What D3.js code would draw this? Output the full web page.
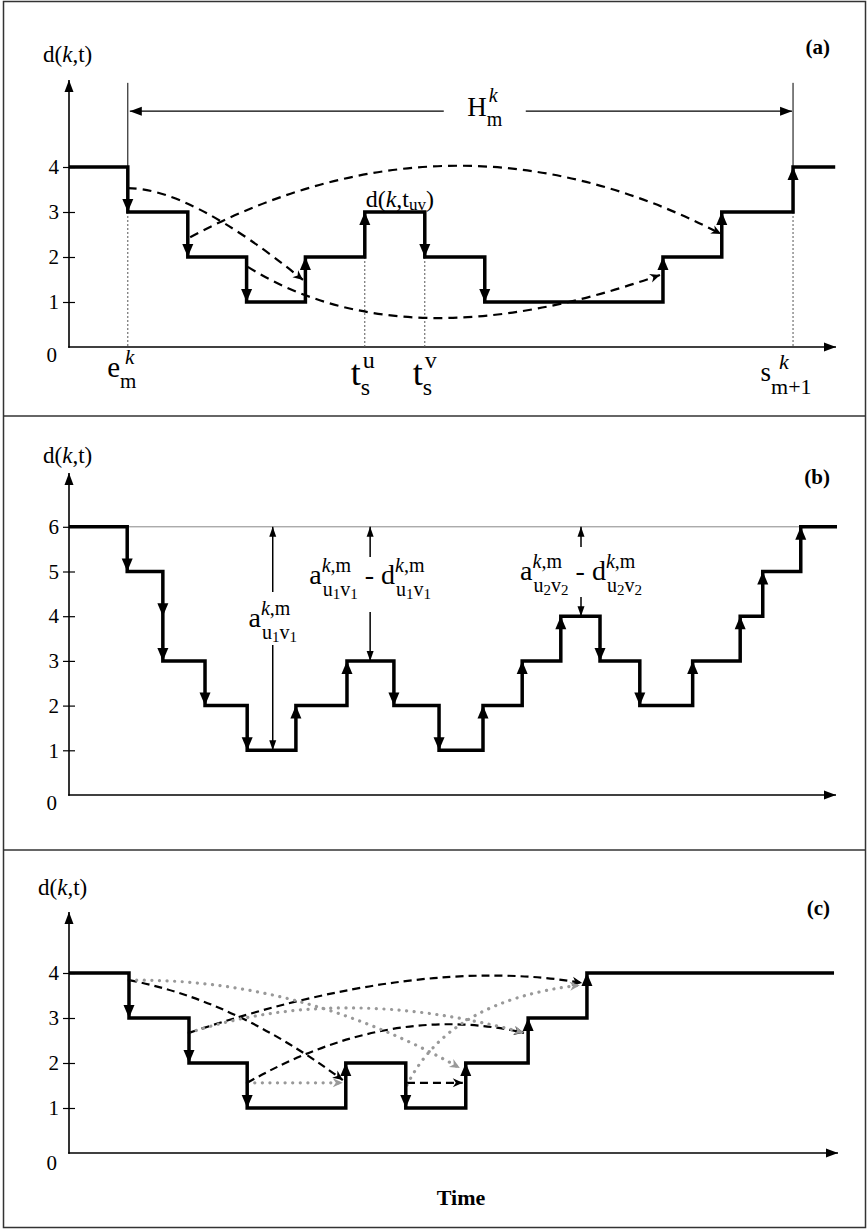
<!DOCTYPE html>
<html>
<head>
<meta charset="utf-8">
<script src="https://cdn.jsdelivr.net/npm/d3@7"></script>
<style>
body { margin: 0; background: #fff; }
svg text { font-family: "Liberation Serif", "Times New Roman", serif; fill: #000; white-space: pre; }
</style>
</head>
<body>
<script>
// ---------- data ----------
// step changes of d(k,t): [time, new level]
var aSteps = [[0, 4], [0.99, 3], [2.0, 2], [2.99, 1], [3.98, 2], [4.98, 3], [5.99, 2], [7.0, 1], [10.0, 2], [10.99, 3], [12.19, 4]];
var aEnd = 12.9;
var aTicks = [0, 1, 2, 3, 4];
// guide times: e_m^k, t_s^u, t_s^v, s_m+1^k
var aGuides = [0.99, 4.98, 5.99, 12.19];
// dashed arcs: [t0, d0, tControl, dControl, t1, d1]
var aArcs = [
    [0.99, 3.53, 2.04, 3.53, 3.94, 1.49],
    [2.04, 2.44, 6.5, 5.58, 10.98, 2.51],
    [3.01, 1.78, 5.67, -0.4, 9.95, 1.6]
];
var aHorizonLevel = 5.24;
var aGuideTop = 5.87;

var bSteps = [[0, 6], [0.98, 5], [1.58, 4], [1.58, 3], [2.29, 2], [3.0, 1], [3.82, 2], [4.68, 3], [5.47, 2], [6.23, 1],
              [6.97, 2], [7.63, 3], [8.28, 4], [8.94, 3], [9.61, 2], [10.5, 3], [11.3, 4], [11.68, 5], [12.32, 6]];
var bEnd = 12.93;
var bTicks = [0, 1, 2, 3, 4, 5, 6];
var bCap = 6;
// distance arrows: [time, from level, to level]
var bGaps = [[3.43, 6, 1], [5.07, 6, 3], [8.62, 6, 4]];

var cSteps = [[0, 4], [1.01, 3], [2.02, 2], [3.0, 1], [4.66, 2], [5.67, 1], [6.68, 2], [7.73, 3], [8.72, 4]];
var cEnd = 12.88;
var cTicks = [0, 1, 2, 3, 4];
var cDashed = [
    [1.01, 3.84, 2.79, 3.4, 4.61, 1.62],
    [2.02, 2.67, 5.91, 4.4, 8.64, 3.78],
    [3.0, 1.56, 5.4, 3.36, 7.66, 2.67],
    [5.69, 1.56, 6.16, 1.56, 6.63, 1.56]
];
var cDotted = [
    [1.01, 3.84, 3.89, 3.89, 6.58, 1.89],
    [2.02, 2.67, 4.56, 3.78, 7.66, 2.67],
    [5.69, 1.51, 6.41, 3.4, 8.6, 3.73],
    [3.0, 1.56, 3.8, 1.56, 4.61, 1.56]
];

// ---------- setup ----------
var W = 868, H = 1230;
var svg = d3.select("body").append("svg")
    .attr("width", W)
    .attr("height", H);

var x = d3.scaleLinear().domain([0, 12.93]).range([69, 837]);

var defs = svg.append("defs");
function marker(id, d, color) {
    defs.append("marker")
        .attr("id", id)
        .attr("viewBox", "-14 -7 16 14")
        .attr("refX", 0).attr("refY", 0)
        .attr("markerWidth", 16).attr("markerHeight", 14)
        .attr("markerUnits", "userSpaceOnUse")
        .attr("orient", "auto")
        .append("path")
        .attr("d", d)
        .attr("fill", color);
}
marker("axArrow", "M0,0 L-12,-4.5 L-12,4.5 Z", "#000");
marker("smArrow", "M0,0 L-10,-3.5 L-10,3.5 Z", "#000");
marker("dashK", "M0,0 L-10,-4.5 L-7,0 L-10,4.5 Z", "#000");
marker("dashG", "M0,0 L-10,-4.5 L-7,0 L-10,4.5 Z", "#999");

// outer frame and separators
svg.append("rect")
    .attr("x", 3.5).attr("y", 1.5)
    .attr("width", 862).attr("height", 1226)
    .attr("fill", "none").attr("stroke", "#333").attr("stroke-width", 1.5);
[416, 850].forEach(function(yy) {
    svg.append("line")
        .attr("x1", 3.5).attr("x2", 865.5)
        .attr("y1", yy).attr("y2", yy)
        .attr("stroke", "#333").attr("stroke-width", 1.5);
});

// runs: [text, italic, size, dy]
function addRuns(t, list, state, partDy, defSize, firstX) {
    list.forEach(function(r, i) {
        var s = t.append("tspan").text(r[0]);
        if (i === 0 && firstX !== undefined) s.attr("x", firstX);
        if (r[1]) s.style("font-style", "italic");
        s.style("font-size", (r[2] || defSize) + "px");
        var target = partDy + (r[3] || 0);
        if (target !== state.cur || (i === 0 && firstX !== undefined)) {
            s.attr("dy", target - state.cur);
            state.cur = target;
        }
    });
}
function measure(list, size) {
    var t = svg.append("text").attr("x", 0).attr("y", -50);
    addRuns(t, list, {cur: 0}, 0, size);
    var w = t.node().getComputedTextLength();
    t.remove();
    return w;
}
function runs(g, px, py, list, size) {
    var t = g.append("text").attr("x", px).attr("y", py).style("font-size", size + "px");
    addRuns(t, list, {cur: 0}, 0, size);
    return t.node().getComputedTextLength();
}

// base letter with super/subscripts in one text element per atom
function mathLabel(g, px, baseline, atoms, anchor) {
    var grp = g.append("g");
    var cx = 0;
    atoms.forEach(function(a) {
        var t = grp.append("text").attr("x", cx).attr("y", 0).style("font-size", a.bs + "px");
        var state = {cur: 0};
        addRuns(t, a.b, state, 0, a.bs);
        var w = measure(a.b, a.bs);
        var w1 = 0, w2 = 0;
        if (a.sub) {
            addRuns(t, a.sub, state, a.drop, a.ss, cx + w + (a.subDx || 0));
            w2 = measure(a.sub, a.ss) + (a.subDx || 0);
        }
        if (a.sup) {
            addRuns(t, a.sup, state, -a.rise, a.ss, cx + w + (a.supDx || 0));
            w1 = measure(a.sup, a.ss) + (a.supDx || 0);
        }
        cx += w + Math.max(w1, w2);
    });
    var off = anchor === "middle" ? -cx / 2 : (anchor === "end" ? -cx : 0);
    grp.attr("transform", "translate(" + (px + off) + "," + baseline + ")");
}

function arcPath(a, y) {
    var p = d3.path();
    p.moveTo(x(a[0]), y(a[1]));
    p.quadraticCurveTo(x(a[2]), y(a[3]), x(a[4]), y(a[5]));
    return p.toString();
}

// draws the axes, ticks and titles of one panel
function drawPanel(cfg) {
    var g = svg.append("g");
    var y = d3.scaleLinear().domain([0, 1]).range([cfg.base, cfg.base - cfg.unit]);
    cfg.y = y;

    var axis = g.append("g")
        .attr("transform", "translate(" + x(0) + ",0)")
        .call(d3.axisLeft(y).tickValues(cfg.ticks).tickSize(6).tickPadding(4).tickFormat(d3.format("d")));
    axis.select(".domain").remove();
    axis.attr("font-size", 21);
    axis.selectAll(".tick line").attr("x1", 6).attr("stroke-width", 1.2);
    axis.selectAll(".tick").filter(function(d) { return d === 0; })
        .each(function() {
            d3.select(this).select("line").remove();
            d3.select(this).select("text").attr("x", -12).attr("y", cfg.zeroDy);
        });

    g.append("line")
        .attr("x1", x(0)).attr("x2", x(0))
        .attr("y1", y(0) + 0.8).attr("y2", cfg.top)
        .attr("stroke", "#000").attr("stroke-width", 1.6)
        .attr("marker-end", "url(#axArrow)");
    g.append("line")
        .attr("x1", x(0) - 0.8).attr("x2", cfg.axisEnd)
        .attr("y1", y(0)).attr("y2", y(0))
        .attr("stroke", "#000").attr("stroke-width", 1.6)
        .attr("marker-end", "url(#axArrow)");

    runs(g, cfg.labelX, cfg.labelY, [["d("], ["k", 1], [",t)"]], 23);
    g.append("text")
        .attr("x", 830).attr("y", cfg.tagY)
        .attr("text-anchor", "end")
        .style("font-size", "21px").style("font-weight", "bold")
        .text(cfg.tag);
    return g;
}

function drawSteps(g, steps, end, y) {
    var pts = steps.map(function(s) { return [s[0], s[1]]; });
    pts.push([end, steps[steps.length - 1][1]]);
    var line = d3.line()
        .x(function(d) { return x(d[0]); })
        .y(function(d) { return y(d[1]); })
        .curve(d3.curveStepAfter);
    g.append("path")
        .attr("d", line(pts))
        .attr("fill", "none").attr("stroke", "#000")
        .attr("stroke-width", 3.5).attr("stroke-linejoin", "miter");
    for (var i = 1; i < steps.length; i++) {
        var prev = steps[i - 1][1], cur = steps[i][1];
        var dir = cur < prev ? 1 : -1;
        var X = x(steps[i][0]), Y = y(cur);
        g.append("path")
            .attr("d", "M" + X + "," + Y + "L" + (X - 5.5) + "," + (Y - dir * 13) + "L" + (X + 5.5) + "," + (Y - dir * 13) + "Z")
            .attr("fill", "#000");
    }
}

// ---------- panel (a) ----------
var pa = {tag: "(a)", ticks: aTicks, base: 347, unit: 45, top: 80, axisEnd: 836, tagY: 54, labelX: 43, labelY: 62, zeroDy: 8};
var ga = drawPanel(pa);
var ya = pa.y;

aGuides.forEach(function(t, i) {
    var k = aSteps.findIndex(function(s) { return Math.abs(s[0] - t) < 1e-6; });
    var lo = Math.min(aSteps[k - 1][1], aSteps[k][1]);
    var hi = Math.max(aSteps[k - 1][1], aSteps[k][1]);
    ga.append("line")
        .attr("x1", x(t)).attr("x2", x(t))
        .attr("y1", ya(lo)).attr("y2", ya(0))
        .attr("stroke", "#555").attr("stroke-width", 1)
        .attr("stroke-dasharray", "2,2");
    if (i === 0 || i === aGuides.length - 1) {
        ga.append("line")
            .attr("x1", x(t)).attr("x2", x(t))
            .attr("y1", ya(hi)).attr("y2", ya(aGuideTop))
            .attr("stroke", "#000").attr("stroke-width", 1);
    }
});

// horizon arrow H_m^k
var hx = x(7.0), hy = ya(aHorizonLevel);
ga.append("line")
    .attr("x1", hx - 41).attr("x2", x(aGuides[0]) + 2)
    .attr("y1", hy).attr("y2", hy)
    .attr("stroke", "#000").attr("stroke-width", 1.3)
    .attr("marker-end", "url(#axArrow)");
ga.append("line")
    .attr("x1", hx + 41).attr("x2", x(aGuides[3]) - 1)
    .attr("y1", hy).attr("y2", hy)
    .attr("stroke", "#000").attr("stroke-width", 1.3)
    .attr("marker-end", "url(#axArrow)");
mathLabel(ga, hx, hy + 5, [{b: [["H"]], bs: 27, sup: [["k", 1]], sub: [["m"]], ss: 20, rise: 14, drop: 10, supDx: 2}], "middle");

ga.selectAll(".arcA").data(aArcs).enter().append("path")
    .attr("d", function(d) { return arcPath(d, ya); })
    .attr("fill", "none").attr("stroke", "#000")
    .attr("stroke-width", 2.2).attr("stroke-dasharray", "9,6")
    .attr("marker-end", "url(#dashK)");

drawSteps(ga, aSteps, aEnd, ya);

// x labels
mathLabel(ga, x(aGuides[0]) - 6, ya(0) + 30, [{b: [["e"]], bs: 29, sup: [["k", 1]], sub: [["m"]], ss: 21, rise: 13, drop: 11, supDx: 5}], "middle");
mathLabel(ga, x(aGuides[1]) - 2, ya(0) + 38, [{b: [["t"]], bs: 36, sup: [["u"]], sub: [["s"]], ss: 24, rise: 17, drop: 10, supDx: 2}], "middle");
mathLabel(ga, x(aGuides[2]), ya(0) + 38, [{b: [["t"]], bs: 36, sup: [["v"]], sub: [["s"]], ss: 24, rise: 17, drop: 10, supDx: 2}], "middle");
mathLabel(ga, x(aGuides[3]) - 7, ya(0) + 34, [{b: [["s"]], bs: 27, sup: [["k", 1]], sub: [["m+1"]], ss: 22, rise: 12, drop: 13, supDx: 8}], "middle");
// d(k,t_uv)
var duv = ga.append("g");
var wuv = runs(duv, 0, 0, [["d("], ["k", 1], [",t"], ["uv", 0, 17, 3], [")", 0, 0, 0]], 24);
duv.attr("transform", "translate(" + ((x(aGuides[1]) + x(aGuides[2])) / 2 + 5 - wuv / 2) + "," + (ya(3) - 5) + ")");

// ---------- panel (b) ----------
var pb = {tag: "(b)", ticks: bTicks, base: 795, unit: 44.7, top: 473, axisEnd: 836, tagY: 484, labelX: 43, labelY: 463, zeroDy: 8};
var gb = drawPanel(pb);
var yb = pb.y;

var capEnd = bSteps.filter(function(s) { return s[1] === bCap; }).pop()[0];
gb.append("line")
    .attr("x1", x(0)).attr("x2", x(capEnd))
    .attr("y1", yb(bCap)).attr("y2", yb(bCap))
    .attr("stroke", "#888").attr("stroke-width", 1);

drawSteps(gb, bSteps, bEnd, yb);

var sub1 = [["u"], ["1", 0, 15, 3], ["v", 0, 0, 0], ["1", 0, 15, 3]];
var sub2 = [["u"], ["2", 0, 15, 3], ["v", 0, 0, 0], ["2", 0, 15, 3]];
var km = [["k", 1], [",m"]];
function aAtom(letter, sub) { return {b: [[letter]], bs: 28, sup: km, sub: sub, ss: 20, rise: 12, drop: 12, subDx: 1}; }
var bLabels = [
    {atoms: [aAtom("a", sub1)], base: 627, gapTop: 35, gapBot: 18},
    {atoms: [aAtom("a", sub1), {b: [[" - "]], bs: 28}, aAtom("d", sub1)], base: 584, gapTop: 27, gapBot: 28},
    {atoms: [aAtom("a", sub2), {b: [[" - "]], bs: 28}, aAtom("d", sub2)], base: 580, gapTop: 33, gapBot: 17}
];
bGaps.forEach(function(d, i) {
    var L = bLabels[i], X = x(d[0]);
    gb.append("line")
        .attr("x1", X).attr("x2", X)
        .attr("y1", L.base - L.gapTop).attr("y2", yb(d[1]))
        .attr("stroke", "#000").attr("stroke-width", 1.5)
        .attr("marker-end", "url(#smArrow)");
    gb.append("line")
        .attr("x1", X).attr("x2", X)
        .attr("y1", L.base + L.gapBot).attr("y2", yb(d[2]))
        .attr("stroke", "#000").attr("stroke-width", 1.5)
        .attr("marker-end", "url(#smArrow)");
    mathLabel(gb, X, L.base, L.atoms, "middle");
});

// ---------- panel (c) ----------
var pc = {tag: "(c)", ticks: cTicks, base: 1153, unit: 45, top: 912, axisEnd: 838, tagY: 915, labelX: 38, labelY: 895, zeroDy: 10};
var gc = drawPanel(pc);
var yc = pc.y;

gc.selectAll(".arcD").data(cDashed).enter().append("path")
    .attr("d", function(d) { return arcPath(d, yc); })
    .attr("fill", "none").attr("stroke", "#000")
    .attr("stroke-width", 2.2).attr("stroke-dasharray", "8,5")
    .attr("marker-end", "url(#dashK)");
gc.selectAll(".arcG").data(cDotted).enter().append("path")
    .attr("d", function(d) { return arcPath(d, yc); })
    .attr("fill", "none").attr("stroke", "#999")
    .attr("stroke-width", 3.2).attr("stroke-linecap", "round")
    .attr("stroke-dasharray", "0.1,7.5")
    .attr("marker-end", "url(#dashG)");

drawSteps(gc, cSteps, cEnd, yc);

gc.append("text")
    .attr("x", 461).attr("y", 1205)
    .attr("text-anchor", "middle")
    .style("font-size", "22px").style("font-weight", "bold")
    .text("Time");
</script>
</body>
</html>
